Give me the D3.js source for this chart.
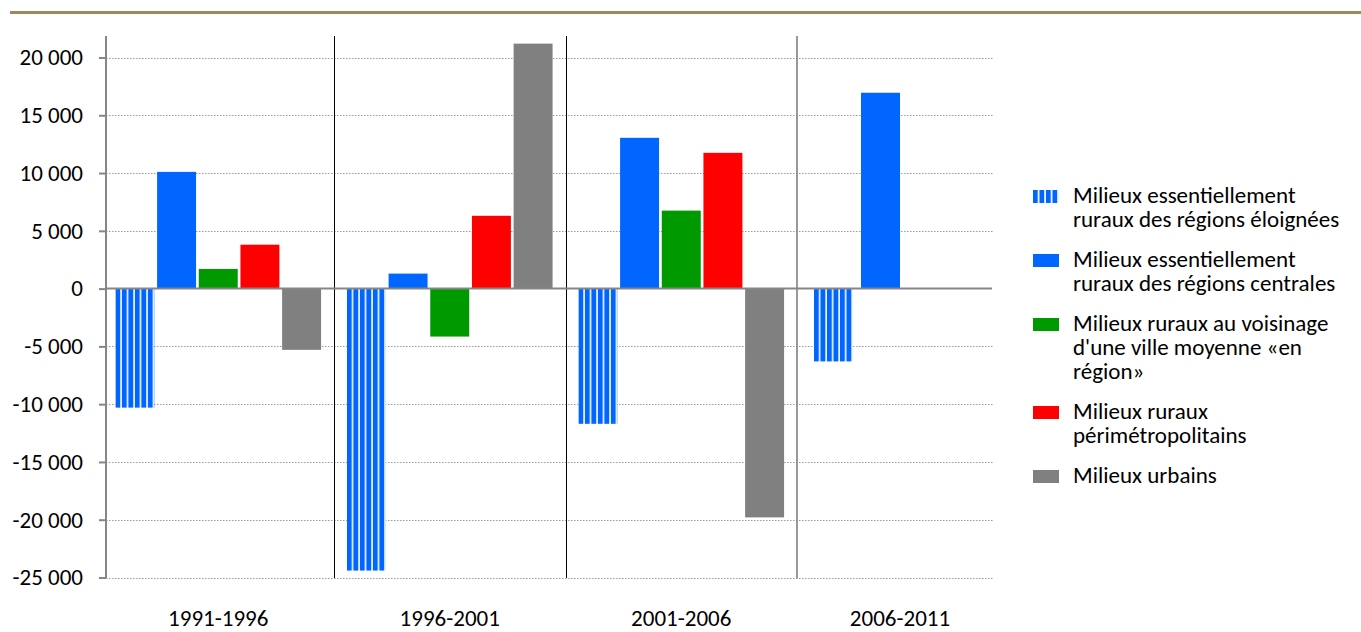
<!DOCTYPE html>
<html>
<head>
<meta charset="utf-8">
<script src="https://cdn.jsdelivr.net/npm/d3@7"></script>
<style>
  html, body { margin: 0; padding: 0; background: #fff; }
  svg { display: block; font-family: Carlito, Lato, "Open Sans", sans-serif; }
</style>
</head>
<body>
<svg id="chart" width="1361" height="632"></svg>
<script>
// ---------- DATA ----------
const categories = ["1991-1996", "1996-2001", "2001-2006", "2006-2011"];
const seriesNames = [
  "Milieux essentiellement ruraux des régions éloignées",
  "Milieux essentiellement ruraux des régions centrales",
  "Milieux ruraux au voisinage d'une ville moyenne «en région»",
  "Milieux ruraux périmétropolitains",
  "Milieux urbains"
];
const legendLines = [
  ["Milieux essentiellement", "ruraux des régions éloignées"],
  ["Milieux essentiellement", "ruraux des régions centrales"],
  ["Milieux ruraux au voisinage", "d'une ville moyenne «en", "région»"],
  ["Milieux ruraux", "périmétropolitains"],
  ["Milieux  urbains"]
];
const eloignees  = [-10300, -24400, -11700, -6300];
const centrales  = [10100, 1300, 13050, 16950];
const voisinage  = [1700, -4150, 6750, null];
const perimetro  = [3800, 6300, 11750, null];
const urbains    = [-5300, 21200, -19800, null];
const yTicks = [-25000, -20000, -15000, -10000, -5000, 0, 5000, 10000, 15000, 20000];

const seriesValues = [eloignees, centrales, voisinage, perimetro, urbains];
const colors = ["url(#stripes)", "#0066FF", "#009900", "#FF0000", "#808080"];

// ---------- SETUP ----------
const FS = 23;
const svg = d3.select("#chart");
const defs = svg.append("defs");
const pat = defs.append("pattern")
  .attr("id", "stripes")
  .attr("patternUnits", "objectBoundingBox")
  .attr("patternContentUnits", "objectBoundingBox")
  .attr("width", 1 / 6).attr("height", 1);
pat.append("rect").attr("width", 1 / 6).attr("height", 1).attr("fill", "#eef4ff");
pat.append("rect").attr("width", (1 / 6) * 0.74).attr("height", 1).attr("fill", "#0066FF");

const legPat = defs.append("pattern")
  .attr("id", "stripesLeg")
  .attr("patternUnits", "objectBoundingBox")
  .attr("patternContentUnits", "objectBoundingBox")
  .attr("width", 1 / 4).attr("height", 1);
legPat.append("rect").attr("width", 1 / 4).attr("height", 1).attr("fill", "#eef4ff");
legPat.append("rect").attr("width", (1 / 4) * 0.72).attr("height", 1).attr("fill", "#0066FF");

// top rule
svg.append("line").attr("x1", 10).attr("x2", 1361).attr("y1", 12.5).attr("y2", 12.5)
  .attr("stroke", "#9C8A5B").attr("stroke-width", 3);

const plotLeft = 106, plotRight = 994;
const y = d3.scaleLinear().domain([-25000, 20000]).range([577.5, 57.5]);

const loc = d3.formatLocale({ decimal: ",", thousands: " ", grouping: [3], currency: ["", ""], minus: "-" });
const fmt = loc.format(",d");

// gridlines
svg.append("g").selectAll("line").data(yTicks.filter(d => d !== 0)).join("line")
  .attr("x1", plotLeft).attr("x2", plotRight)
  .attr("y1", d => Math.round(y(d)) + 0.5).attr("y2", d => Math.round(y(d)) + 0.5)
  .attr("stroke", "#9a9a9a").attr("stroke-width", 1.2).attr("stroke-dasharray", "1.5,1.5");

// outer scales
const xMain = d3.scaleBand().domain(categories.slice(0, 3)).range([102.5, 797]);
const xLast = d3.scaleBand().domain(categories.slice(3)).range([797, 1003]);
const xCat = c => (xMain.domain().includes(c) ? xMain(c) + xMain.bandwidth() / 2 : xLast(c) + xLast.bandwidth() / 2);

const innerMain = d3.scaleBand().domain(d3.range(5)).range([0, xMain.bandwidth()])
  .paddingInner(0.065).paddingOuter(0.31);
const lastSeries = d3.range(5).filter(i => seriesValues[i][3] !== null);
const innerLast = d3.scaleBand().domain(lastSeries).range([17, 103]).paddingInner(0.17).paddingOuter(0);

const bars = [];
categories.forEach((c, ci) => {
  seriesValues.forEach((vals, si) => {
    const v = vals[ci];
    if (v === null) return;
    let x0, w;
    if (ci < 3) { x0 = xMain(c) + innerMain(si); w = innerMain.bandwidth(); }
    else { x0 = xLast(c) + innerLast(si); w = innerLast.bandwidth(); }
    bars.push({ x: x0, w, v, si });
  });
});

svg.append("g").selectAll("rect").data(bars).join("rect")
  .attr("x", d => d.x).attr("width", d => d.w)
  .attr("y", d => y(Math.max(0, d.v)))
  .attr("height", d => Math.abs(y(d.v) - y(0)))
  .attr("fill", d => colors[d.si]);

// separators
svg.append("g").selectAll("line").data(categories.slice(1, 3)).join("line")
  .attr("x1", d => Math.round(xMain(d)) + 0.5).attr("x2", d => Math.round(xMain(d)) + 0.5)
  .attr("y1", 36).attr("y2", 578)
  .attr("stroke", "#000").attr("stroke-width", 1);
svg.append("line")
  .attr("x1", xLast(categories[3])).attr("x2", xLast(categories[3]))
  .attr("y1", 36).attr("y2", 578)
  .attr("stroke", "#808080").attr("stroke-width", 1.6);

// zero line
svg.append("line").attr("x1", plotLeft).attr("x2", 992)
  .attr("y1", y(0)).attr("y2", y(0))
  .attr("stroke", "#868686").attr("stroke-width", 2);

// y axis
const yAxis = d3.axisLeft(y).tickValues(yTicks).tickSize(7).tickPadding(16).tickFormat(fmt);
const gy = svg.append("g").attr("transform", `translate(${plotLeft},0)`).call(yAxis);
gy.select(".domain").attr("d", `M0,36V578`).attr("stroke", "#868686").attr("stroke-width", 2);
gy.selectAll(".tick line").attr("stroke", "#868686").attr("stroke-width", 2);
gy.selectAll(".tick text").attr("font-size", FS).attr("fill", "#000")
  .style("font-family", "Carlito, Lato, 'Open Sans', sans-serif");

// category labels
svg.append("g").selectAll("text").data(categories).join("text")
  .attr("x", d => xCat(d)).attr("y", 626)
  .attr("text-anchor", "middle").attr("font-size", FS).attr("fill", "#000")
  .text(d => d);

// legend
const legendTop = 196;
let ly = legendTop;
const leg = svg.append("g");
legendLines.forEach((lines, i) => {
  const g = leg.append("g").attr("transform", `translate(0,${ly})`);
  g.append("rect").attr("x", 1033).attr("y", -6).attr("width", 26).attr("height", 13)
    .attr("fill", i === 0 ? "url(#stripesLeg)" : colors[i]);
  g.selectAll("text").data(lines).join("text")
    .attr("x", 1073).attr("y", (d, k) => k * 24 + 7)
    .attr("font-size", FS).attr("fill", "#000")
    .text(d => d);
  ly += lines.length * 24 + 16;
});
</script>
</body>
</html>
